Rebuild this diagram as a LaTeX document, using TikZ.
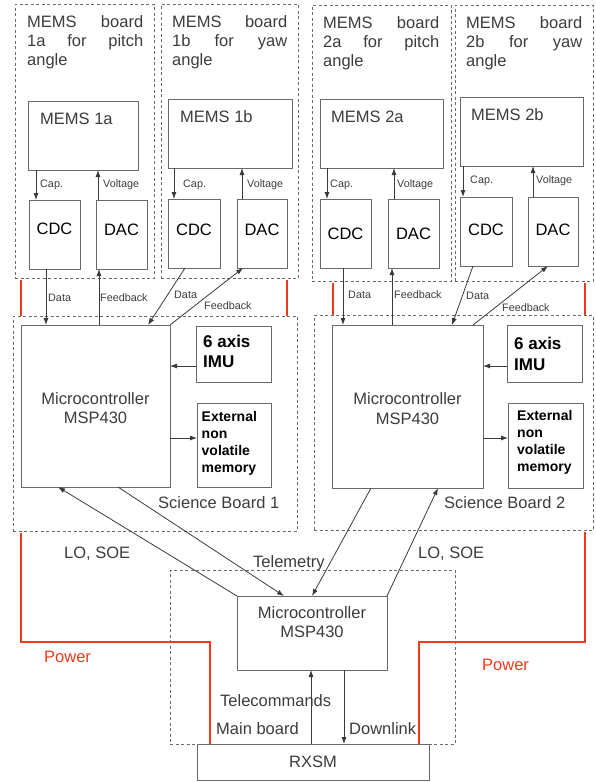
\documentclass[tikz,border=0pt]{standalone}
\usepackage{fontspec}
\setmainfont{Liberation Sans}
\usetikzlibrary{arrows.meta,calc}
\definecolor{boxc}{HTML}{6A6A6A}
\definecolor{txtc}{HTML}{3C3C3C}
\definecolor{linec}{HTML}{3A3A3A}
\definecolor{pwr}{HTML}{F03A1E}
\newcommand\bx[6][box]{\node[#1,minimum width={#5-#3},minimum height={#6-#4}] (#2) at (#3,#4) {};}
\begin{document}
\begin{tikzpicture}[x=1pt,y=-1pt,
 box/.style={draw=boxc,line width=0.9pt,inner sep=0pt,outer sep=0pt,anchor=north west},
 dbox/.style={box,dash pattern=on 3pt off 2.5pt},
 big/.style={font=\fontsize{16.5}{19.5}\selectfont,text=txtc,inner sep=0pt},
 blk/.style={font=\fontsize{16.5}{19.5}\selectfont,text=black,inner sep=0pt},
 small/.style={font=\fontsize{10.8}{12}\selectfont,text=txtc,inner sep=0pt,anchor=base west},
 bimu/.style={font=\fontsize{17}{20}\bfseries\selectfont,text=black,inner sep=0pt,anchor=base west},
 bmem/.style={font=\fontsize{14}{16}\bfseries\selectfont,text=black,inner sep=0pt,anchor=base west},
 arr/.style={draw=linec,line width=0.8pt,-{Latex[length=7pt,width=5pt]}},
 pline/.style={draw=pwr,line width=2.4pt}]
\useasboundingbox (0,0) rectangle (595,782);
% dashed boards
\bx[dbox]{mb1a}{15}{4}{154}{278}
\bx[dbox]{mb1b}{161}{4}{298}{278}
\bx[dbox]{mb2a}{312}{5}{451}{281}
\bx[dbox]{mb2b}{455}{5}{593}{281}
\bx[dbox]{sb1}{13}{316}{297}{531}
\bx[dbox]{sb2}{314}{315}{593}{530}
\bx[dbox]{mainb}{170}{570}{455}{744}
% solid boxes
\bx{mems1a}{28}{101}{138}{170}
\bx{mems1b}{168}{99}{292}{168}
\bx{mems2a}{320}{99}{443}{168}
\bx{mems2b}{460}{97}{583}{166}
\bx{cdc1a}{29}{200}{80}{269}
\bx{dac1a}{96}{200}{147}{269}
\bx{cdc1b}{168}{199}{220}{268}
\bx{dac1b}{237}{199}{287}{268}
\bx{cdc2a}{320}{199}{371}{268}
\bx{dac2a}{388}{199}{439}{268}
\bx{cdc2b}{460}{197}{512}{266}
\bx{dac2b}{528}{197}{578}{266}
\bx{mcu1}{21}{325}{170}{487}
\bx{mcu2}{332}{325}{483}{488}
\bx{imu1}{196}{326}{271}{382}
\bx{imu2}{507}{325}{582}{382}
\bx{mem1}{197}{403}{271}{487}
\bx{mem2}{508}{403}{583}{488}
\bx{mcu0}{237}{596}{387}{670}
\bx{rxsm}{197}{744}{429}{780}
% board titles
\node[big,anchor=base west] (t1a1) at (27,27) {\makebox[116pt][s]{MEMS board}};
\node[big,anchor=base west] (t1a2) at (27,46.3) {\makebox[116pt][s]{1a for pitch}};
\node[big,anchor=base west] (t1a3) at (27,65.6) {angle};
\node[big,anchor=base west] (t1b1) at (172,27) {\makebox[115pt][s]{MEMS board}};
\node[big,anchor=base west] (t1b2) at (172,46.3) {\makebox[115pt][s]{1b for yaw}};
\node[big,anchor=base west] (t1b3) at (172,65.6) {angle};
\node[big,anchor=base west] (t2a1) at (323,28) {\makebox[116pt][s]{MEMS board}};
\node[big,anchor=base west] (t2a2) at (323,47.3) {\makebox[116pt][s]{2a for pitch}};
\node[big,anchor=base west] (t2a3) at (323,66.6) {angle};
\node[big,anchor=base west] (t2b1) at (466,28) {\makebox[116pt][s]{MEMS board}};
\node[big,anchor=base west] (t2b2) at (466,47.3) {\makebox[116pt][s]{2b for yaw}};
\node[big,anchor=base west] (t2b3) at (466,66.6) {angle};
% MEMS labels
\node[big,anchor=base west] (lm1a) at ([xshift=12,yshift=-23]mems1a.north west) {MEMS 1a};
\node[big,anchor=base west] (lm1b) at ([xshift=12,yshift=-23]mems1b.north west) {MEMS 1b};
\node[big,anchor=base west] (lm2a) at ([xshift=11,yshift=-23]mems2a.north west) {MEMS 2a};
\node[big,anchor=base west] (lm2b) at ([xshift=11,yshift=-23]mems2b.north west) {MEMS 2b};
% CDC / DAC labels
\node[blk] (lc1a) at ([yshift=6]cdc1a.center) {CDC};
\node[blk] (ld1a) at ([yshift=5]dac1a.center) {DAC};
\node[blk] (lc1b) at ([yshift=4]cdc1b.center) {CDC};
\node[blk] (ld1b) at ([yshift=4]dac1b.center) {DAC};
\node[blk] (lc2a) at ([yshift=0]cdc2a.center) {CDC};
\node[blk] (ld2a) at ([yshift=0]dac2a.center) {DAC};
\node[blk] (lc2b) at ([yshift=2]cdc2b.center) {CDC};
\node[blk] (ld2b) at ([yshift=2]dac2b.center) {DAC};
% micro labels
\node[big,align=center] (lmcu1) at ([yshift=-2]mcu1.center) {Microcontroller\\MSP430};
\node[big,align=center] (lmcu2) at ([yshift=-2]mcu2.center) {Microcontroller\\MSP430};
\node[big,align=center] (lmcu0) at ([yshift=11]mcu0.center) {Microcontroller\\MSP430};
\node[big] (lrx) at (rxsm.center) {RXSM};
% IMU / memory labels
\node[bimu] (li1a) at (203,347) {6 axis};
\node[bimu] (li1b) at (203,367) {IMU};
\node[bimu] (li2a) at (514,349) {6 axis};
\node[bimu] (li2b) at (514,370) {IMU};
\node[bmem] (le1a) at (201.5,421.5) {External};
\node[bmem] (le1b) at (201.5,438.3) {non};
\node[bmem] (le1c) at (201.5,455.1) {volatile};
\node[bmem] (le1d) at (201.5,472) {memory};
\node[bmem] (le2a) at (517,420) {External};
\node[bmem] (le2b) at (517,437) {non};
\node[bmem] (le2c) at (517,454) {volatile};
\node[bmem] (le2d) at (517,471) {memory};
% other labels
\node[big,anchor=base west] (sci1) at (158,508) {Science Board 1};
\node[big,anchor=base west] (sci2) at (444,508) {Science Board 2};
\node[big,anchor=base west] (lo1) at (64,558) {LO, SOE};
\node[big,anchor=base west] (lo2) at (418,558) {LO, SOE};
\node[big,anchor=base west] (tel) at (253,567) {Telemetry};
\node[big,anchor=base west,text=pwr] (pw1) at (44,662) {Power};
\node[big,anchor=base west,text=pwr] (pw2) at (482,670) {Power};
\node[big,anchor=base west] (tcl) at (220,706) {Telecommands};
\node[big,anchor=base west] (mbl) at (216,734) {Main board};
\node[big,anchor=base west] (dll) at (349,734) {Downlink};
% small labels
\node[small] (cp1a) at (40,187) {Cap.};
\node[small] (vo1a) at (103,187) {Voltage};
\node[small] (cp1b) at (183,187) {Cap.};
\node[small] (vo1b) at (247,187) {Voltage};
\node[small] (cp2a) at (330,187) {Cap.};
\node[small] (vo2a) at (397,187) {Voltage};
\node[small] (cp2b) at (470,183) {Cap.};
\node[small] (vo2b) at (536,183) {Voltage};
\node[small] (da1a) at (48,301) {Data};
\node[small] (fb1a) at (100,301) {Feedback};
\node[small] (da1b) at (174,298) {Data};
\node[small] (fb1b) at (204,309) {Feedback};
\node[small] (da2a) at (348,298) {Data};
\node[small] (fb2a) at (394,298) {Feedback};
\node[small] (da2b) at (466,299) {Data};
\node[small] (fb2b) at (502,311) {Feedback};
% cap / voltage arrows
\coordinate (c1a) at ([xshift=8]mems1a.south west);
\coordinate (v1a) at ([xshift=2]dac1a.north west);
\coordinate (c1b) at ([xshift=6]mems1b.south west);
\coordinate (v1b) at ([xshift=5]dac1b.north west);
\coordinate (c2a) at ([xshift=7]mems2a.south west);
\coordinate (v2a) at ([xshift=6]dac2a.north west);
\coordinate (c2b) at ([xshift=3]mems2b.south west);
\coordinate (v2b) at ([xshift=5]dac2b.north west);
\draw[arr] (c1a) -- (c1a |- cdc1a.north);
\draw[arr] (v1a) -- (v1a |- mems1a.south);
\draw[arr] (c1b) -- (c1b |- cdc1b.north);
\draw[arr] (v1b) -- (v1b |- mems1b.south);
\draw[arr] (c2a) -- (c2a |- cdc2a.north);
\draw[arr] (v2a) -- (v2a |- mems2a.south);
\draw[arr] (c2b) -- (c2b |- cdc2b.north);
\draw[arr] (v2b) -- (v2b |- mems2b.south);
% data / feedback
\coordinate (d1a) at ([xshift=17]cdc1a.south west);
\coordinate (f1a) at ([xshift=3]dac1a.south west);
\draw[arr] (d1a) -- (d1a |- mcu1.north);
\draw[arr] (f1a |- mcu1.north) -- (f1a);
\draw[arr] ([xshift=17]cdc1b.south west) -- ([xshift=-22]mcu1.north east);
\draw[arr] (mcu1.north east) -- ([xshift=6]dac1b.south west);
\coordinate (d2a) at ([xshift=23]cdc2a.south west);
\coordinate (f2a) at ([xshift=4]dac2a.south west);
\draw[arr] (d2a) -- (d2a |- mcu2.north);
\draw[arr] (f2a |- mcu2.north) -- (f2a);
\draw[arr] ([xshift=13]cdc2b.south west) -- ([xshift=-31]mcu2.north east);
\draw[arr] ([xshift=-10]mcu2.north east) -- ([xshift=20]dac2b.south west);
% IMU / memory arrows
\coordinate (i1) at ([yshift=-12]imu1.west);
\coordinate (i2) at ([yshift=-12.5]imu2.west);
\coordinate (m1) at ([yshift=7]mem1.west);
\coordinate (m2) at ([yshift=7.5]mem2.west);
\draw[arr] (i1) -- (i1 -| mcu1.east);
\draw[arr] (i2) -- (i2 -| mcu2.east);
\draw[arr] (m1 -| mcu1.east) -- (m1);
\draw[arr] (m2 -| mcu2.east) -- (m2);
% main board links
\draw[arr] (mcu0.north west) -- ([xshift=37]mcu1.south west);
\draw[arr] ([xshift=97]mcu1.south west) -- ([xshift=47]mcu0.north west);
\draw[arr] ([xshift=39]mcu2.south west) -- ([xshift=75]mcu0.north west);
\draw[arr] (mcu0.north east) -- ([xshift=106]mcu2.south west);
\coordinate (tc) at ([xshift=114]rxsm.north west);
\coordinate (dl) at ([xshift=107]mcu0.south west);
\draw[arr] (tc) -- (tc |- mcu0.south);
\draw[arr] (dl) -- (dl |- rxsm.north);
% power lines
\coordinate (r1) at ([xshift=6]mb1a.south west);
\coordinate (r2) at ([xshift=-11]mb1b.south east);
\coordinate (r3) at ([xshift=21]mb2a.south west);
\coordinate (r4) at ([xshift=-8]mb2b.south east);
\draw[pline] ([yshift=-2]r1) -- (r1 |- sb1.north);
\draw[pline] ([yshift=-2]r2) -- (r2 |- sb1.north);
\draw[pline] ([yshift=-2]r3) -- (r3 |- sb2.north);
\draw[pline] ([yshift=-2]r4) -- (r4 |- sb2.north);
\coordinate (r5) at ([xshift=8]sb1.south west);
\coordinate (r6) at ([xshift=13]rxsm.north west);
\coordinate (r8) at ([xshift=-8]sb2.south east);
\coordinate (r9) at ([xshift=-10]rxsm.north east);
\draw[pline] ([yshift=-2]r5) -- ++(0,109) -| (r6);
\draw[pline] ([yshift=-2]r8) -- ++(0,110) -| (r9);
\end{tikzpicture}
\end{document}
